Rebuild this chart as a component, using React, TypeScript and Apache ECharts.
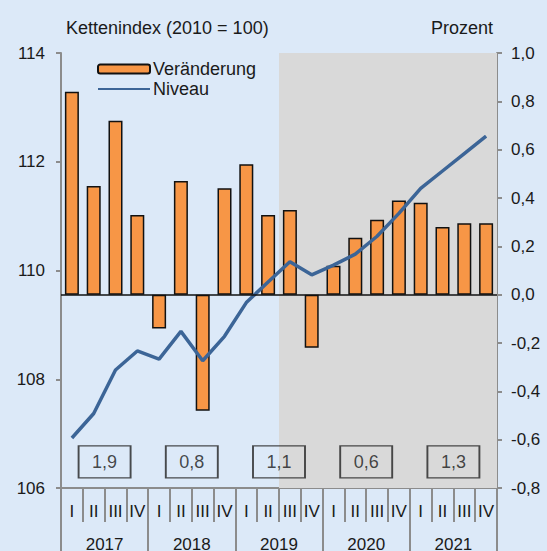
import React, { useEffect, useRef } from "react";
import * as echarts from "echarts";

const years = ["2017", "2018", "2019", "2020", "2021"];
const quarterNames = ["I", "II", "III", "IV"];
const changeValues = [0.84, 0.45, 0.72, 0.33, -0.14, 0.47, -0.48, 0.44, 0.54, 0.33, 0.35, -0.22, 0.12, 0.235, 0.31, 0.39, 0.38, 0.28, 0.295, 0.295];
const levelValues = [106.92, 107.37, 108.17, 108.52, 108.37, 108.88, 108.34, 108.79, 109.41, 109.79, 110.16, 109.92, 110.1, 110.3, 110.63, 111.05, 111.51, 111.83, 112.15, 112.47];
const annualGrowth = ["1,9", "0,8", "1,1", "0,6", "1,3"];
const forecastStartIndex = 10;

const FONT = "Liberation Sans, Arial, sans-serif";
const TXT = "#1a1a1a";
const AX = "#8c8c8c";

export default function App() {
  const ref = useRef<HTMLDivElement>(null);
  useEffect(() => {
    if (!ref.current) return;
    const chart = echarts.init(ref.current, null, { renderer: "svg" });
    const quarterLabels: string[] = [];
    years.forEach(() => quarterNames.forEach((q) => quarterLabels.push(q)));
    const n = quarterLabels.length;
    const boxY = 106.48;
    chart.setOption({
      animation: false,
      backgroundColor: "#dce9f8",
      textStyle: { fontFamily: FONT },
      grid: { left: 61, right: 50, top: 53, bottom: 63, outerBoundsMode: "none", containLabel: false },
      legend: {
        left: 92,
        top: 55,
        orient: "vertical",
        itemWidth: 52,
        itemHeight: 9,
        itemGap: 2,
        data: [
          { name: "Veränderung" },
          { name: "Niveau", itemStyle: { opacity: 0 } },
        ],
        textStyle: { fontSize: 18, color: TXT, fontFamily: FONT, padding: [0, 0, 0, -2] },
      },
      graphic: [
        { type: "text", left: 66, top: 19, style: { text: "Kettenindex (2010 = 100)", fontSize: 18, fill: TXT, fontFamily: FONT } },
        { type: "text", right: 54, top: 19, style: { text: "Prozent", fontSize: 18, fill: TXT, fontFamily: FONT } },
      ],
      xAxis: [
        {
          type: "category",
          data: quarterLabels,
          position: "bottom",
          axisLine: { show: true, onZero: false, lineStyle: { color: AX, width: 2 } },
          axisTick: { show: true, length: 34, lineStyle: { color: AX, width: 2 } },
          axisLabel: { margin: 15, fontSize: 17, color: TXT, fontFamily: FONT, interval: 0 },
        },
        {
          type: "category",
          data: years,
          position: "bottom",
          offset: 0,
          axisLine: { show: false, onZero: false },
          axisTick: { show: true, length: 64, lineStyle: { color: AX, width: 2 } },
          axisLabel: { margin: 48, fontSize: 17, color: TXT, fontFamily: FONT, interval: 0 },
        },
        { type: "value", min: 0, max: n, show: false },
      ],
      yAxis: [
        {
          type: "value",
          min: 106,
          max: 114,
          interval: 2,
          position: "left",
          splitLine: { show: false },
          axisLine: { show: true, onZero: false, lineStyle: { color: AX, width: 2 } },
          axisTick: { show: true, length: 5, lineStyle: { color: AX, width: 2 } },
          axisLabel: { fontSize: 17, color: TXT, fontFamily: FONT, margin: 16 },
        },
        {
          type: "value",
          min: -0.8,
          max: 1.0,
          interval: 0.2,
          position: "right",
          splitLine: { show: false },
          axisLine: { show: true, onZero: false, lineStyle: { color: AX, width: 2 } },
          axisTick: { show: true, length: 5, lineStyle: { color: AX, width: 2 } },
          axisLabel: {
            fontSize: 17,
            color: TXT,
            fontFamily: FONT,
            margin: 14,
            formatter: (v: number) => v.toFixed(1).replace(".", ","),
          },
        },
      ],
      series: [
        {
          name: "shade",
          type: "scatter",
          xAxisIndex: 2,
          yAxisIndex: 0,
          symbolSize: 0,
          data: [[forecastStartIndex, 106]],
          z: 0,
          silent: true,
          markArea: {
            silent: true,
            itemStyle: { color: "#d9d9d9" },
            data: [[{ xAxis: forecastStartIndex, yAxis: 106 }, { xAxis: n, yAxis: 114 }]],
          },
        },
        {
          name: "Veränderung",
          type: "bar",
          xAxisIndex: 0,
          yAxisIndex: 1,
          data: changeValues,
          barWidth: 14,
          z: 2,
          itemStyle: { color: "#f79646", borderColor: "#111", borderWidth: 1.5 },
          markLine: {
            silent: true,
            symbol: "none",
            label: { show: false },
            lineStyle: { color: "#111", width: 1.5, type: "solid" },
            data: [{ yAxis: 0 }],
          },
        },
        {
          name: "Niveau",
          type: "line",
          xAxisIndex: 0,
          yAxisIndex: 0,
          data: levelValues,
          symbol: "none",
          z: 4,
          lineStyle: { color: "#3c6597", width: 3.5 },
          itemStyle: { color: "#3c6597" },
        },
        {
          name: "annual",
          type: "scatter",
          xAxisIndex: 2,
          yAxisIndex: 0,
          z: 5,
          symbol: "rect",
          symbolSize: [52, 32],
          itemStyle: { color: "rgba(0,0,0,0)", borderColor: "#222", borderWidth: 1.5 },
          label: { show: true, position: "inside", fontSize: 18, color: TXT, fontFamily: FONT, formatter: (p: any) => p.name },
          data: annualGrowth.map((g, i) => ({ name: g, value: [i * 4 + 2, boxY] })),
        },
      ],
    });
    return () => chart.dispose();
  }, []);
  return <div ref={ref} style={{ position: "fixed", left: 0, top: 0, width: 547, height: 551 }} />;
}
